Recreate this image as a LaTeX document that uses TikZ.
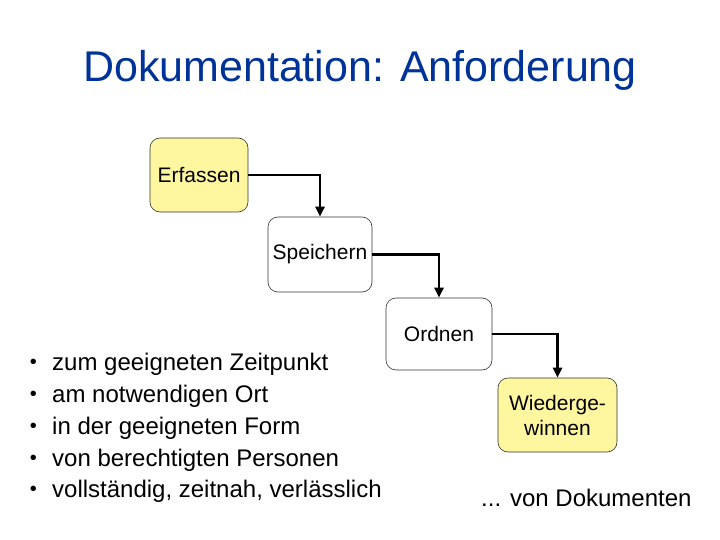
\documentclass[tikz,border=0pt]{standalone}
\usepackage{fontspec}
\setmainfont{Liberation Sans}
\usetikzlibrary{arrows.meta}
\definecolor{titleblue}{RGB}{0,51,153}
\definecolor{boxyellow}{RGB}{255,247,160}
\begin{document}
\begin{tikzpicture}[x=1pt,y=-1pt,
  box/.style={draw=black!80,line width=0.6pt,rounded corners=10pt,font=\fontsize{21}{25}\selectfont,align=center,inner sep=0pt},
  conn/.style={line width=2.8pt,-{Triangle[length=10pt,width=9pt]}},
  txt/.style={font=\fontsize{24}{28}\selectfont,anchor=west,inner sep=0pt}]
\useasboundingbox (0,0) rectangle (720,540);
\node[font=\fontsize{43}{48}\selectfont,text=titleblue] (title) at (360,70) {Dokumentation: Anforderung};
\node[box,fill=boxyellow,minimum width=98pt,minimum height=74pt] (e) at (199,175) {Erfassen};
\node[box,fill=white,minimum width=104pt,minimum height=75pt] (s) at (320,254.5) {Speichern};
\node[box,fill=white,minimum width=106pt,minimum height=72pt] (o) at (439,334) {Ordnen};
\node[box,fill=boxyellow,minimum width=119pt,minimum height=74pt] (w) at (557.5,415) {Wiederge-\\winnen};
\draw[conn] (e.east) -| (s.north);
\draw[conn] (s.east) -| (o.north);
\draw[conn] (o.east) -| (w.north);
\node[txt] (b1) at (52,364) {zum geeigneten Zeitpunkt};
\node[txt] (b2) at (52,396) {am notwendigen Ort};
\node[txt] (b3) at (52,428) {in der geeigneten Form};
\node[txt] (b4) at (52,460) {von berechtigten Personen};
\node[txt] (b5) at (52,491) {vollständig, zeitnah, verlässlich};
\foreach \i in {1,...,5} \node[font=\fontsize{20}{20}\selectfont,anchor=east,inner sep=0pt] (d\i) at (37,0 |- b\i) {•};
\node[txt] (doc) at (481,498) {... von Dokumenten};
\end{tikzpicture}
\end{document}
